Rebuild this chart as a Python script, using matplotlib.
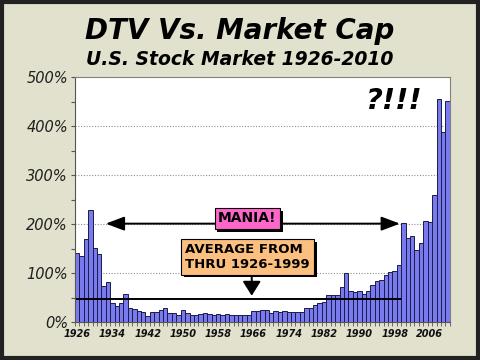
import numpy as np
import matplotlib
matplotlib.use("Agg")
import matplotlib.pyplot as plt
import matplotlib.patheffects as pe
from matplotlib.patches import Rectangle

# DTV / market cap ratio in percent, 1926-2010
years = list(range(1926, 2011))
ratio = [142, 136, 169, 228, 151, 140, 74, 81,
         39, 33, 40, 57, 29, 27, 23, 20, 13, 20, 20, 25,
         29, 18, 19, 14, 24, 19, 14, 15, 17, 19, 16, 15, 17, 15, 16, 15, 14, 14, 14, 15,
         22, 23, 24, 24, 18, 22, 20, 22, 21, 21, 21, 21, 28, 29, 35, 39, 41,
         55, 56, 56, 71, 100, 64, 62, 63, 57, 63, 76, 85, 86, 96, 102, 104, 116,
         203, 172, 175, 147, 161, 206, 204, 259, 456, 387, 451]
tick_years = list(range(1926, 2011, 8))
y_ticks = [0, 100, 200, 300, 400, 500]
y_labels = ['0%', '100%', '200%', '300%', '400%', '500%']

avg_start, avg_end = 1926, 1999

bg = '#e1e1cd'
fig = plt.figure(figsize=(4.8, 3.6), dpi=100, facecolor=bg)
ax = fig.add_axes([0.156, 0.105, 0.781, 0.681])
ax.set_facecolor('white')

x = np.arange(len(years))
ax.bar(x, ratio, width=1.0, color='#7a7af0', edgecolor='#1c1c48', linewidth=0.7, zorder=2)

ax.set_xlim(-0.5, len(years) - 0.5)
ax.set_ylim(0, 500)

# grid
for g in y_ticks[1:-1]:
    ax.axhline(g, color='#909090', linestyle=(0, (1, 1.5)), linewidth=0.8, zorder=1)

# ticks
ax.set_yticks(y_ticks)
ax.set_yticklabels(y_labels, fontsize=10.5, style='italic', color='#202020')
ax.set_yticks(np.arange(50, 500, 100), minor=True)
ax.tick_params(axis='y', which='both', direction='out', length=3, width=0.8,
               color='#555555', pad=2)

ax.set_xticks([years.index(t) for t in tick_years])
ax.set_xticklabels([str(t) for t in tick_years], fontsize=7, fontweight='bold',
                   style='italic', color='#111111')
ax.set_xticks(np.arange(-0.5, len(years), 1), minor=True)
ax.tick_params(axis='x', which='major', length=0, pad=5)
ax.tick_params(axis='x', which='minor', direction='out', length=3, width=0.6,
               color='#555555')

for s in ['top', 'right']:
    ax.spines[s].set_color('#808080')
ax.spines['left'].set_color('#555555')
ax.spines['bottom'].set_color('#555555')

# average line 1926-1999
i0, i1 = years.index(avg_start), years.index(avg_end)
avg = np.mean(ratio[i0:i1 + 1])
ax.hlines(avg, i0 - 0.3, i1 + 0.7, color='black', linewidth=1.4, zorder=3)

shadow = [pe.SimplePatchShadow(offset=(2, -2), shadow_rgbFace='black', alpha=1.0), pe.Normal()]

# MANIA arrow
ax.annotate('', xy=(6.5, 201), xytext=(73.2, 201),
            arrowprops=dict(arrowstyle='<|-|>,head_length=0.45,head_width=0.17',
                            color='black', lw=1.4, mutation_scale=25,
                            shrinkA=0, shrinkB=0), zorder=4)
t = ax.text(38.6, 212, 'MANIA!', fontsize=10, fontweight='bold', ha='center', va='center',
            bbox=dict(boxstyle='square,pad=0.25', fc='#ff66cc', ec='black', lw=0.8), zorder=5)
t.get_bbox_patch().set_path_effects(shadow)

# average label and arrow
ax.annotate('', xy=(39.6, 54), xytext=(39.6, 97),
            arrowprops=dict(arrowstyle='-|>,head_length=0.35,head_width=0.22',
                            color='black', lw=1.4, mutation_scale=25,
                            shrinkA=0, shrinkB=0), zorder=4)
t = ax.text(38.7, 133, 'AVERAGE FROM\nTHRU 1926-1999', fontsize=9.5, fontweight='bold',
            ha='center', va='center', multialignment='left', linespacing=1.15,
            bbox=dict(boxstyle='square,pad=0.3', fc='#fbbf80', ec='black', lw=0.8), zorder=5)
t.get_bbox_patch().set_path_effects(shadow)

ax.text(72.0, 452, '?!!!', fontsize=21, fontweight='bold', style='italic',
        ha='center', va='center', zorder=5)

# titles
fig.text(0.5, 0.8917, 'DTV Vs. Market Cap', fontsize=20, fontweight='bold',
         style='italic', ha='center', va='baseline')
fig.text(0.5, 0.8194, 'U.S. Stock Market 1926-2010', fontsize=13.5, fontweight='bold',
         style='italic', ha='center', va='baseline')

# outer frame
fig.patches.append(Rectangle((0.004, 0.005), 0.992, 0.99, transform=fig.transFigure,
                             fill=False, ec='#222222', lw=3))

fig.savefig('out.png', dpi=100, facecolor=bg)
